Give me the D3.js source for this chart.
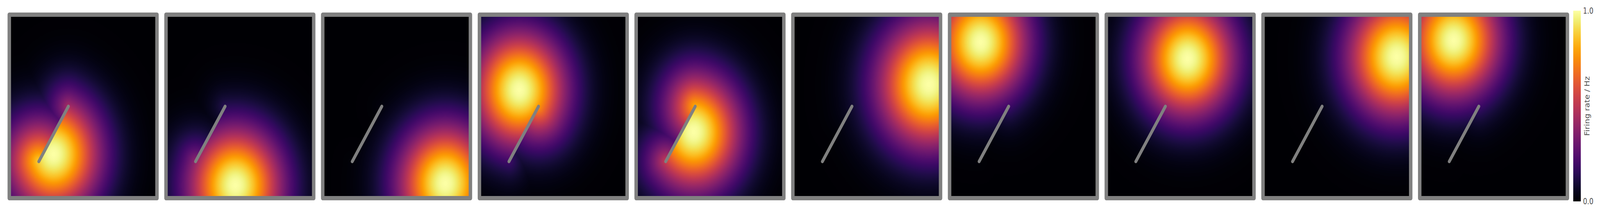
<!DOCTYPE html>
<html>
<head>
<meta charset="utf-8">
<script src="https://cdn.jsdelivr.net/npm/d3@7"></script>
<style>
html, body { margin: 0; padding: 0; background: #ffffff; overflow: hidden; width: 100%; height: 100%; }
svg { display: block; width: 100vw; height: 100vh; }
</style>
</head>
<body>
<script>
// ---------------- data ----------------
// one rate map per panel: place-field centre (environment units, y up) and width
const panelIds   = [1, 2, 3, 4, 5, 6, 7, 8, 9, 10];
const fieldX     = [0.30, 0.47, 0.83, 0.27, 0.39, 0.92, 0.21, 0.55, 0.905, 0.23];
const fieldY     = [0.24, 0.07, 0.08, 0.59, 0.36, 0.62, 0.85, 0.76, 0.77, 0.86];
const fieldWidth = [0.22, 0.22, 0.22, 0.22, 0.22, 0.24, 0.22, 0.22, 0.23, 0.22];
// internal wall (same in every panel)
const wallX = [0.2, 0.4];
const wallY = [0.2, 0.5];
// colour bar
const colorTicks = [0.0, 1.0];
const colorTickLabels = ["0.0", "1.0"];
const colorLabel = "Firing rate / Hz";

// ---------------- layout ----------------
const W = 5081, H = 547;
const envSize = 469;          // pixel size of the [0,1] environment
const envLeft0 = 29.5;        // first panel left
const pitch = 497.67;         // panel spacing
const envTop = 37.5;
const borderW = 11;
const wallW = 9;
const grey = "#808080";
const textColor = "#4d4d4d";
const cb = { x: 4996, y0: 27.3, y1: 514.7, w: 24 };

const svg = d3.select("body").append("svg")
  .attr("viewBox", `0 0 ${W} ${H}`)
  .attr("preserveAspectRatio", "none");

const color = d3.scaleSequential(d3.interpolateInferno).domain([0, 1]);
const lut = d3.range(256).map(i => d3.rgb(color(i / 255)));

// geodesic distance around the single wall
function segIntersect(ax, ay, bx, by, cx, cy, dx, dy) {
  const d1x = bx - ax, d1y = by - ay, d2x = dx - cx, d2y = dy - cy;
  const den = d1x * d2y - d1y * d2x;
  if (Math.abs(den) < 1e-12) return false;
  const t = ((cx - ax) * d2y - (cy - ay) * d2x) / den;
  const u = ((cx - ax) * d1y - (cy - ay) * d1x) / den;
  return t > 0 && t < 1 && u > 0 && u < 1;
}
function geoDist(px, py, cx, cy) {
  if (!segIntersect(cx, cy, px, py, wallX[0], wallY[0], wallX[1], wallY[1])) {
    return Math.hypot(px - cx, py - cy);
  }
  let best = Infinity;
  for (let e = 0; e < 2; e++) {
    const d = Math.hypot(wallX[e] - cx, wallY[e] - cy) + Math.hypot(px - wallX[e], py - wallY[e]);
    if (d < best) best = d;
  }
  return best;
}

const defs = svg.append("defs");

panelIds.forEach((id, k) => {
  const left = envLeft0 + k * pitch;
  const xs = d3.scaleLinear().domain([0, 1]).range([left, left + envSize]);
  const ys = d3.scaleLinear().domain([0, 1]).range([envTop + envSize, envTop]);

  // rate map
  const n = envSize;
  const vals = new Float32Array(n * n);
  let vmax = 0;
  for (let j = 0; j < n; j++) {
    const ey = ys.invert(envTop + j + 0.5);
    for (let i = 0; i < n; i++) {
      const ex = xs.invert(left + i + 0.5);
      const d = geoDist(ex, ey, fieldX[k], fieldY[k]);
      const v = Math.exp(-d * d / (2 * fieldWidth[k] * fieldWidth[k]));
      vals[j * n + i] = v;
      if (v > vmax) vmax = v;
    }
  }
  const canvas = document.createElement("canvas");
  canvas.width = n; canvas.height = n;
  const ctx = canvas.getContext("2d");
  const img = ctx.createImageData(n, n);
  for (let p = 0; p < n * n; p++) {
    const c = lut[Math.max(0, Math.min(255, Math.round(vals[p] / vmax * 255)))];
    img.data[4 * p] = c.r; img.data[4 * p + 1] = c.g; img.data[4 * p + 2] = c.b; img.data[4 * p + 3] = 255;
  }
  ctx.putImageData(img, 0, 0);

  const g = svg.append("g").attr("class", "panel").attr("data-panel", id);
  g.append("image")
    .attr("x", xs(0)).attr("y", ys(1))
    .attr("width", xs(1) - xs(0)).attr("height", ys(0) - ys(1))
    .attr("preserveAspectRatio", "none")
    .attr("href", canvas.toDataURL());

  // environment boundary
  g.append("rect")
    .attr("x", xs(0)).attr("y", ys(1))
    .attr("width", xs(1) - xs(0)).attr("height", ys(0) - ys(1))
    .attr("fill", "none").attr("stroke", grey)
    .attr("stroke-width", borderW).attr("stroke-linejoin", "round");

  // wall
  g.append("line")
    .attr("x1", xs(wallX[0])).attr("y1", ys(wallY[0]))
    .attr("x2", xs(wallX[1])).attr("y2", ys(wallY[1]))
    .attr("stroke", grey).attr("stroke-width", wallW).attr("stroke-linecap", "round");
});

// colour bar
const cbScale = d3.scaleLinear().domain([0, 1]).range([cb.y1, cb.y0]);
const grad = defs.append("linearGradient").attr("id", "cbgrad")
  .attr("x1", 0).attr("y1", 1).attr("x2", 0).attr("y2", 0);
d3.range(0, 1.0001, 0.05).forEach(t => {
  grad.append("stop").attr("offset", t).attr("stop-color", color(t));
});
svg.append("rect")
  .attr("x", cb.x).attr("y", cbScale(1))
  .attr("width", cb.w).attr("height", cbScale(0) - cbScale(1))
  .attr("fill", "url(#cbgrad)");

svg.selectAll("text.cbtick").data(colorTicks).enter().append("text")
  .attr("class", "cbtick")
  .attr("x", cb.x + cb.w + 7)
  .attr("y", d => cbScale(d))
  .attr("dy", "0.36em")
  .attr("font-family", "DejaVu Sans, sans-serif")
  .attr("font-size", 20.8)
  .attr("fill", textColor)
  .text((d, i) => colorTickLabels[i]);

svg.append("text")
  .attr("transform", `translate(${5047},${(cb.y0 + cb.y1) / 2}) rotate(-90)`)
  .attr("text-anchor", "middle")
  .attr("font-family", "DejaVu Sans, sans-serif")
  .attr("font-size", 20.8)
  .attr("fill", textColor)
  .text(colorLabel);
</script>
</body>
</html>
